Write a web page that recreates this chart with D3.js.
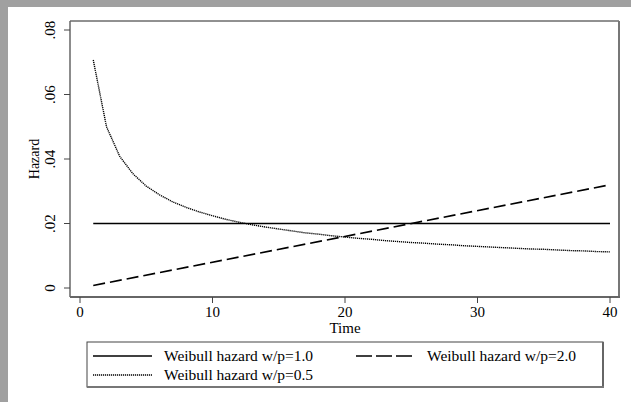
<!DOCTYPE html>
<html>
<head>
<meta charset="utf-8">
<script src="https://cdn.jsdelivr.net/npm/d3@7"></script>
<style>
  body { margin: 0; background: #a0a0a0; }
  svg { display: block; font-family: "Liberation Serif", "Times New Roman", serif; }
</style>
</head>
<body>
<div id="chart"></div>
<script>
// Data
const timeConst = [1, 40];
const hazardP10 = [0.02, 0.02];

const timeLin = [1, 40];
const hazardP20 = [0.0008, 0.032];

const timeP05 = [1, 2, 3, 4, 5, 6, 7, 8, 9, 10, 11, 12, 13, 14, 15, 16, 17, 18, 19, 20,
  21, 22, 23, 24, 25, 26, 27, 28, 29, 30, 31, 32, 33, 34, 35, 36, 37, 38, 39, 40];
const hazardP05 = [0.0707, 0.0500, 0.0408, 0.0354, 0.0316, 0.0289, 0.0267, 0.0250, 0.0236, 0.0224,
  0.0213, 0.0204, 0.0196, 0.0189, 0.0183, 0.0177, 0.0171, 0.0167, 0.0162, 0.0158,
  0.0154, 0.0151, 0.0147, 0.0144, 0.0141, 0.0139, 0.0136, 0.0134, 0.0131, 0.0129,
  0.0127, 0.0125, 0.0123, 0.0121, 0.0120, 0.0118, 0.0116, 0.0115, 0.0113, 0.0112];

const xTicks = [0, 10, 20, 30, 40];
const yTicks = [0, 0.02, 0.04, 0.06, 0.08];
const yTickLabels = ["0", ".02", ".04", ".06", ".08"];
const legendLabels = ["Weibull hazard w/p=1.0", "Weibull hazard w/p=2.0", "Weibull hazard w/p=0.5"];

const W = 631, H = 402;
const svg = d3.select("#chart").append("svg").attr("width", W).attr("height", H);

// white panel on gray background
svg.append("rect").attr("x", 8).attr("y", 7).attr("width", W - 8).attr("height", H - 7).attr("fill", "#fff");

const frame = { left: 70, right: 619, top: 21, bottom: 297 };
const x = d3.scaleLinear().domain([0, 40]).range([80, 610]);
const y = d3.scaleLinear().domain([0, 0.08]).range([288, 30]);

// plot frame
svg.append("line").attr("x1", frame.left).attr("x2", frame.right).attr("y1", frame.top).attr("y2", frame.top)
  .attr("stroke", "#222").attr("stroke-width", 1);
svg.append("line").attr("x1", frame.left).attr("x2", frame.left).attr("y1", frame.top).attr("y2", frame.bottom)
  .attr("stroke", "#666").attr("stroke-width", 1.5);
svg.append("line").attr("x1", frame.right).attr("x2", frame.right).attr("y1", frame.top).attr("y2", frame.bottom + 1)
  .attr("stroke", "#777").attr("stroke-width", 2);
svg.append("line").attr("x1", frame.left).attr("x2", frame.right + 1).attr("y1", frame.bottom).attr("y2", frame.bottom)
  .attr("stroke", "#666").attr("stroke-width", 2);

// y axis ticks + rotated labels
const yAxis = svg.append("g");
yAxis.selectAll("line").data(yTicks).enter().append("line")
  .attr("x1", frame.left - 6).attr("x2", frame.left)
  .attr("y1", d => y(d)).attr("y2", d => y(d))
  .attr("stroke", "#444");
yAxis.selectAll("text").data(yTicks).enter().append("text")
  .attr("transform", d => `translate(55,${y(d)}) rotate(-90)`)
  .attr("text-anchor", "middle")
  .attr("font-size", 15)
  .text((d, i) => yTickLabels[i]);

svg.append("text").attr("transform", `translate(39,${y(0.04)}) rotate(-90)`)
  .attr("text-anchor", "middle").attr("font-size", 14).text("Hazard");

// x axis ticks + labels
const xAxis = svg.append("g");
xAxis.selectAll("line").data(xTicks).enter().append("line")
  .attr("x1", d => x(d)).attr("x2", d => x(d))
  .attr("y1", frame.bottom).attr("y2", frame.bottom + 6)
  .attr("stroke", "#444");
xAxis.selectAll("text").data(xTicks).enter().append("text")
  .attr("x", d => x(d)).attr("y", 317)
  .attr("text-anchor", "middle").attr("font-size", 15).text(d => d);

svg.append("text").attr("x", x(20)).attr("y", 333).attr("text-anchor", "middle")
  .attr("font-size", 15).text("Time");

// lines
const line = d3.line().x(d => x(d[0])).y(d => y(d[1]));

const series = [
  { pts: d3.zip(timeConst, hazardP10), dash: null, width: 1.6 },
  { pts: d3.zip(timeLin, hazardP20), dash: "12,5", width: 1.6 },
  { pts: d3.zip(timeP05, hazardP05), dash: "1.2,0.8", width: 1.4 }
];

series.forEach(s => {
  svg.append("path").attr("d", line(s.pts))
    .attr("fill", "none").attr("stroke", "#000")
    .attr("stroke-width", s.width)
    .attr("stroke-dasharray", s.dash);
});

// legend
const lg = { left: 87, top: 342, right: 603, bottom: 387 };
svg.append("rect").attr("x", lg.left).attr("y", lg.top)
  .attr("width", lg.right - lg.left).attr("height", lg.bottom - lg.top)
  .attr("fill", "#fff").attr("stroke", "#444").attr("stroke-width", 1);
svg.append("line").attr("x1", lg.right).attr("x2", lg.right).attr("y1", lg.top).attr("y2", lg.bottom + 1)
  .attr("stroke", "#666").attr("stroke-width", 2);
svg.append("line").attr("x1", lg.left).attr("x2", lg.right + 1).attr("y1", lg.bottom).attr("y2", lg.bottom)
  .attr("stroke", "#777").attr("stroke-width", 2);

const legendPos = [
  { x1: 93, x2: 152, y: 356, tx: 164, dash: null },
  { x1: 356, x2: 412, y: 356, tx: 427, dash: "16,4" },
  { x1: 93, x2: 152, y: 375, tx: 164, dash: "1.2,0.8" }
];

legendPos.forEach((p, i) => {
  svg.append("line").attr("x1", p.x1).attr("x2", p.x2).attr("y1", p.y).attr("y2", p.y)
    .attr("stroke", "#000").attr("stroke-width", series[i].width)
    .attr("stroke-dasharray", p.dash);
  svg.append("text").attr("x", p.tx).attr("y", p.y + 5)
    .attr("font-size", 15.5).text(legendLabels[i]);
});
</script>
</body>
</html>
